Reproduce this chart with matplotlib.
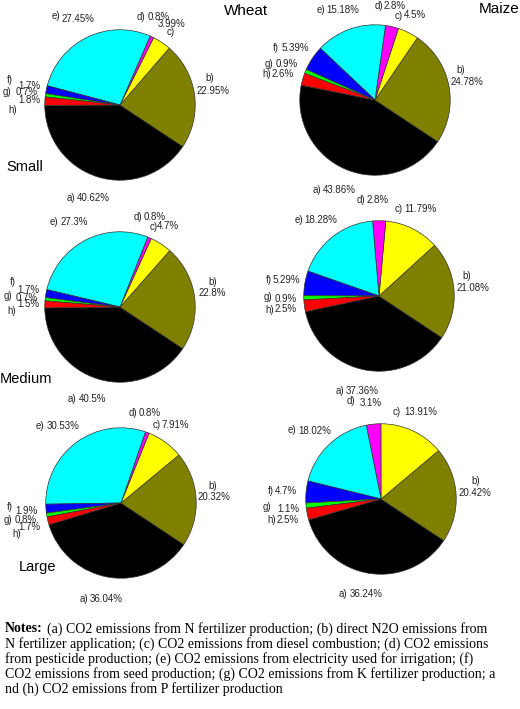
import matplotlib
matplotlib.use("Agg")
import matplotlib.pyplot as plt

W, H = 520, 709

letters = ["a", "b", "c", "d", "e", "f", "g", "h"]
colors = ["#000000", "#808000", "#ffff00", "#ff00ff", "#00ffff", "#0000ff", "#00ff00", "#ff0000"]

wheat_small = [40.62, 22.95, 3.99, 0.8, 27.45, 1.7, 0.7, 1.8]
maize_small = [43.86, 24.78, 4.5, 2.8, 15.18, 5.39, 0.9, 2.6]
wheat_medium = [40.5, 22.8, 4.7, 0.8, 27.3, 1.7, 0.7, 1.5]
maize_medium = [37.36, 21.08, 11.79, 2.8, 18.28, 5.29, 0.9, 2.5]
wheat_large = [36.04, 20.32, 7.91, 0.8, 30.53, 1.9, 0.8, 1.7]
maize_large = [36.24, 20.42, 13.91, 3.1, 18.02, 4.7, 1.1, 2.5]

notes_head = "Notes:"
notes_lines = [
    "(a) CO2 emissions from N fertilizer production; (b) direct N2O emissions from",
    "N fertilizer application; (c) CO2 emissions from diesel combustion; (d) CO2 emissions",
    "from pesticide production; (e) CO2 emissions from electricity used for irrigation; (f)",
    "CO2 emissions from seed production; (g) CO2 emissions from K fertilizer production; a",
    "nd (h) CO2 emissions from P fertilizer production",
]

# pie centre (px), and label layout: letter (x, y) and value (x, y), left-aligned px
pies = [
    (wheat_small, (120, 105), [
        (67, 198, 77, 198), (205, 78, 197, 91), (167, 32, 158, 24), (137, 17, 148, 17),
        (52, 16, 62, 19), (7, 80, 18, 86), (3, 92, 16, 92), (8, 110, 18, 100)]),
    (maize_small, (375, 100), [
        (313, 190, 323, 190), (456, 70, 451, 82), (395, 16, 404, 15), (375, 6, 384, 6),
        (317, 10, 326, 10), (273, 48, 282, 48), (265, 64, 276, 64), (262, 74, 272, 74)]),
    (wheat_medium, (120, 307), [
        (68, 399, 79, 399), (208, 282, 199, 293), (150, 227, 157, 226), (134, 217, 144, 217),
        (50, 222, 61, 222), (10, 282, 17, 290), (4, 296, 16, 298), (7, 311, 17, 304)]),
    (maize_medium, (379, 296), [
        (336, 391, 346, 391), (462, 276, 457, 288), (395, 209, 404, 209), (357, 200, 367, 200),
        (295, 220, 304, 220), (266, 280, 273, 280), (264, 297, 275, 299), (265, 310, 275, 309)]),
    (wheat_large, (121, 503), [
        (80, 599, 90, 599), (208, 486, 198, 497), (153, 425, 161, 425), (129, 413, 139, 413),
        (36, 426, 47, 426), (7, 507, 15, 511), (4, 520, 15, 520), (12, 534, 18, 527)]),
    (maize_large, (381, 499), [
        (339, 594, 350, 594), (471, 481, 459, 493), (393, 412, 404, 412), (347, 401, 360, 403),
        (288, 430, 298, 431), (268, 491, 275, 491), (263, 507, 277, 509), (267, 520, 277, 520)]),
]

R = 76
A_END = 326.5  # angle where slice a ends (counter-clockwise)

fig = plt.figure(figsize=(W / 100, H / 100), dpi=100)
fig.patch.set_facecolor("white")

def fx(x):
    return x / W

def fy(y):
    return 1 - y / H

for values, (cx, cy), labs in pies:
    ax = fig.add_axes([fx(cx - R), fy(cy + R), 2 * R / W, 2 * R / H])
    start = A_END - 360 * values[0] / sum(values)
    ax.pie(values, colors=colors, startangle=start, counterclock=True, radius=1,
           wedgeprops=dict(edgecolor="#333333", linewidth=0.5))
    ax.set_xlim(-1.01, 1.01)
    ax.set_ylim(-1.01, 1.01)
    ax.axis("off")
    for k, v, (lx, ly, vx, vy) in zip(letters, values, labs):
        fig.text(fx(lx), fy(ly), f"{k})", ha="left", va="center",
                 fontsize=7, family="Liberation Sans", color="#222222")
        fig.text(fx(vx), fy(vy), f"{v:g}%", ha="left", va="center",
                 fontsize=7, family="Liberation Sans", color="#222222")

fig.text(fx(246), fy(11), "Wheat", ha="center", va="center", fontsize=11, family="Liberation Sans")
fig.text(fx(499), fy(9), "Maize", ha="center", va="center", fontsize=11, family="Liberation Sans")
fig.text(fx(25), fy(167), "Small", ha="center", va="center", fontsize=10.5, family="Liberation Sans")
fig.text(fx(26), fy(379), "Medium", ha="center", va="center", fontsize=10.5, family="Liberation Sans")
fig.text(fx(37), fy(567), "Large", ha="center", va="center", fontsize=10.5, family="Liberation Sans")

# notes block
line_y = [629, 644, 659, 674, 689]
fig.text(fx(5), fy(line_y[0]), notes_head, ha="left", va="center", fontsize=10,
         family="Liberation Serif", weight="bold")
for i, (ln, y) in enumerate(zip(notes_lines, line_y)):
    x0 = 47 if i == 0 else 5
    fig.text(fx(x0), fy(y), ln, ha="left", va="center", fontsize=10, family="Liberation Serif")

fig.savefig("out.png", dpi=100)
